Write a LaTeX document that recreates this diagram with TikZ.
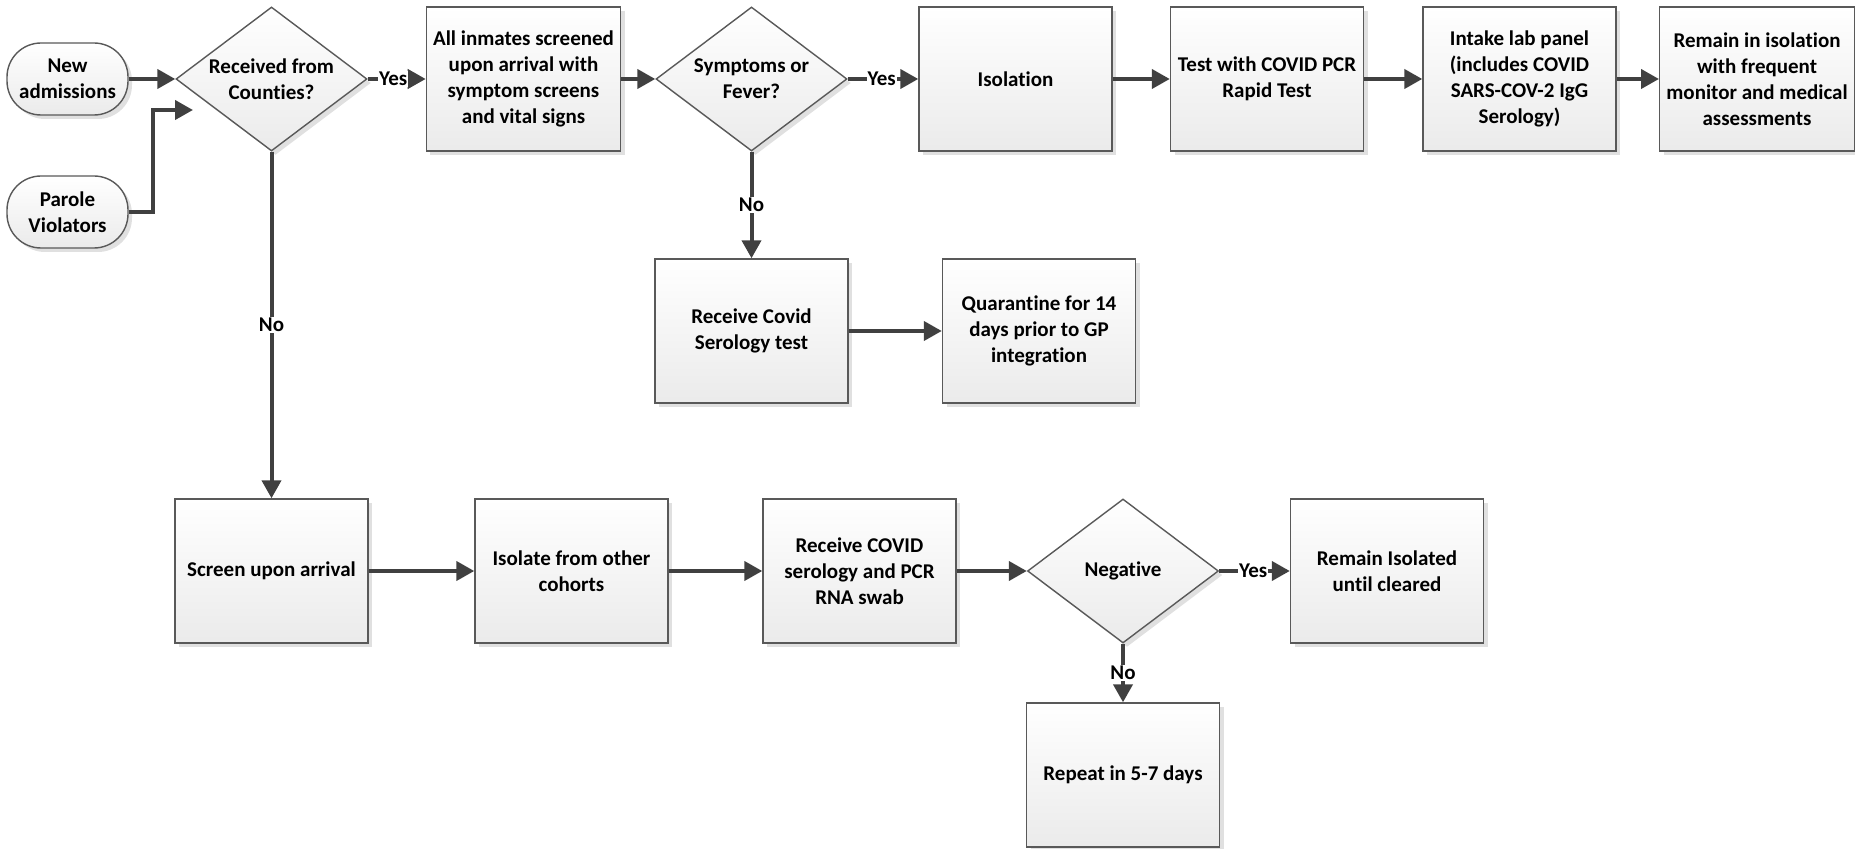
\documentclass[tikz,border=0pt]{standalone}
\usepackage{fontspec}
\setmainfont{Carlito}[Ligatures=NoCommon]
\usepackage{tikz}
\usetikzlibrary{shapes,arrows.meta,shadows,positioning}
\tikzset{
      flowedge/.style = {draw=black!75, line width=2pt, -{Triangle[length=9pt,width=9.5pt]}},
      flowbox/.style = {rectangle, draw=black!65, line width=0.7pt, top color=white, bottom color=black!8,
                        minimum width=96.5pt, minimum height=72pt, align=center,
                        font=\bfseries\fontsize{10.5}{13}\selectfont,
                        drop shadow={shadow xshift=2pt, shadow yshift=-2pt, fill=black!12, opacity=1}},
      decision/.style = {flowbox, diamond, aspect=1.33, inner sep=0pt, minimum width=95.5pt, minimum height=72pt},
      startnode/.style = {flowbox, rounded corners=17pt, minimum width=60.5pt, minimum height=36pt},
      answer/.style = {fill=white, inner sep=0.5pt, font=\bfseries\fontsize{10.5}{13}\selectfont},
    }

\begin{document}
\begin{tikzpicture}[x=0.5pt,y=-0.5pt]
          \useasboundingbox (0,0) rectangle (1855,849);
          \node[startnode] (newadm) at (67.5,79) {New\\admissions};
          \node[startnode] (parole) at (67.5,212) {Parole\\Violators};
          \node[decision] (counties) at (271.5,79) {Received from\\Counties?};
          \node[flowbox] (screened) at (523.5,79) {All inmates screened\\upon arrival with\\symptom screens\\and vital signs};
          \node[decision] (symptoms) at (751.5,79) {Symptoms or\\Fever?};
          \node[flowbox] (isolation) at (1015.5,79) {Isolation};
          \node[flowbox] (pcrtest) at (1267,79) {Test with COVID PCR\\Rapid Test};
          \node[flowbox] (intake) at (1519.5,79) {Intake lab panel\\(includes COVID\\SARS-COV-2 IgG\\Serology)};
          \node[flowbox, minimum width=95pt] (monitor) at (1757,79) {Remain in isolation\\with frequent\\monitor and medical\\assessments};
          \node[flowbox] (serology) at (751.5,331) {Receive Covid\\Serology test};
          \node[flowbox] (quarantine) at (1039,331) {Quarantine for 14\\days prior to GP\\integration};
          \node[flowbox] (screen) at (271.5,571) {Screen upon arrival};
          \node[flowbox] (isolate) at (571.5,571) {Isolate from other\\cohorts};
          \node[flowbox] (swab) at (859.5,571) {Receive COVID\\serology and PCR\\RNA swab};
          \node[decision] (negative) at (1123,571) {Negative};
          \node[flowbox] (cleared) at (1387,571) {Remain Isolated\\until cleared};
          \node[flowbox] (repeat) at (1123,775) {Repeat in 5-7 days};
          \coordinate (paroleend) at (193,110);

          \path (newadm) edge[flowedge] (counties);
          \draw[flowedge] (parole.east) -- ++(24,0) |- (paroleend);
          \path (counties) edge[flowedge] node[answer, pos=0.44] {Yes} (screened);
          \path (counties) edge[flowedge] node[answer] {No} (screen);
          \path (screened) edge[flowedge] (symptoms);
          \path (symptoms) edge[flowedge] node[answer, pos=0.48] {Yes} (isolation);
          \path (symptoms) edge[flowedge] node[answer] {No} (serology);
          \path (isolation) edge[flowedge] (pcrtest);
          \path (pcrtest) edge[flowedge] (intake);
          \path (intake) edge[flowedge] (monitor);
          \path (serology) edge[flowedge] (quarantine);
          \path (screen) edge[flowedge] (isolate);
          \path (isolate) edge[flowedge] (swab);
          \path (swab) edge[flowedge] (negative);
          \path (negative) edge[flowedge] node[answer, pos=0.48] {Yes} (cleared);
          \path (negative) edge[flowedge] node[answer] {No} (repeat);
\end{tikzpicture}
\end{document}
